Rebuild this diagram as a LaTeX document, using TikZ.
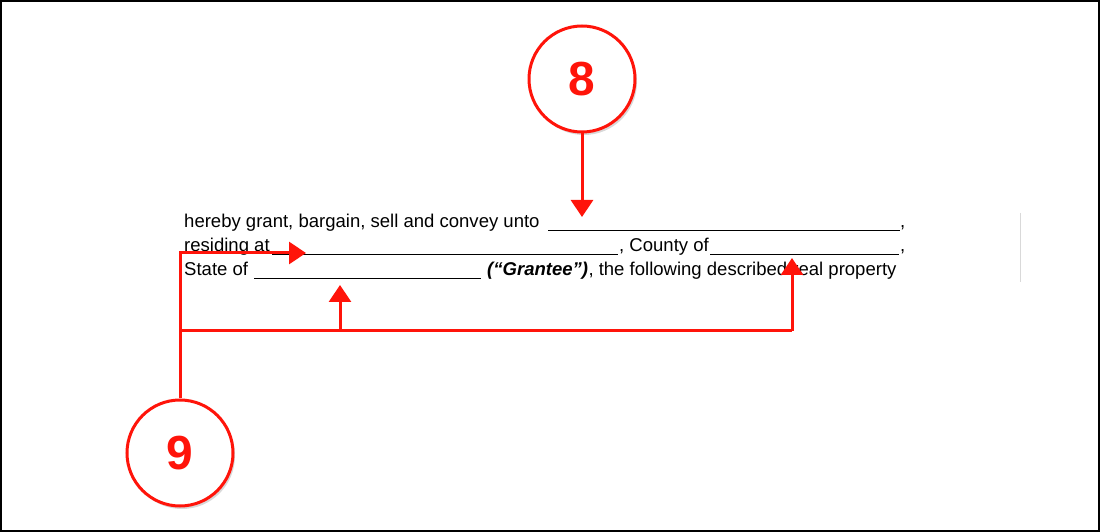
\documentclass[tikz,border=0pt]{standalone}
\usepackage{fontspec}
\setmainfont{Liberation Sans}
\usetikzlibrary{arrows.meta,shadows}
\definecolor{rd}{RGB}{255,20,10}
\begin{document}
\begin{tikzpicture}[x=1bp,y=-1bp,
  badge/.style={circle,draw=rd,line width=3bp,fill=white,minimum size=106bp,inner sep=0pt,
    font=\fontsize{48}{48}\selectfont\bfseries,text=rd,
    drop shadow={shadow xshift=2bp,shadow yshift=-3bp,opacity=0.3,fill=gray}},
  con/.style={draw=rd,line width=3bp},
  arr/.style={con,-{Triangle[width=22bp,length=17bp]}},
  txt/.style={anchor=base west,inner sep=0pt,font=\fontsize{18.6}{20}\selectfont},
  ul/.style={line width=0.8bp}]
\useasboundingbox (0,0) rectangle (1100,532);
\draw[line width=2bp] (1,1) rectangle (1099,531);
\draw[gray!30,line width=1bp] (1020,213) -- (1020,282);
% text
\node[txt] (t1) at (184,228) {hereby grant, bargain, sell and convey unto};
\draw[ul] (548,230) -- (900,230);
\node[txt] (c1) at (900,228) {,};
\node[txt] (t2) at (184,252) {residing at};
\draw[ul] (272,254) -- (618,254);
\node[txt] (t2b) at (619,252) {, County of};
\draw[ul] (710,254) -- (899,254);
\node[txt] (c2) at (900,252) {,};
\node[txt] (t3) at (184,276) {State of};
\draw[ul] (254,278) -- (481,278);
\node[txt,font=\fontsize{18.6}{20}\selectfont\bfseries\itshape] (g) at (487,276) {(“Grantee”)};
\node[txt] (t3b) at (g.base east) {, the following described real property};
% badges
\node[badge] (b8) at (582,79) {8};
\node[badge] (b9) at (180,453) {9};
\coordinate (a8) at (582,217);
\coordinate (j) at (180,331);
\coordinate (m) at (340,331);
\coordinate (r) at (792,331);
\coordinate (tm) at (340,285);
\coordinate (tr) at (792,258);
\coordinate (tl) at (306,253);
\draw[arr] (b8.south) -- (a8);
\draw[con] (b9.north) -- (j) -- (r);
\draw[arr] (r) -- (tr);
\draw[arr] (m) -- (tm);
\draw[arr] (j) |- (tl);
\end{tikzpicture}
\end{document}
